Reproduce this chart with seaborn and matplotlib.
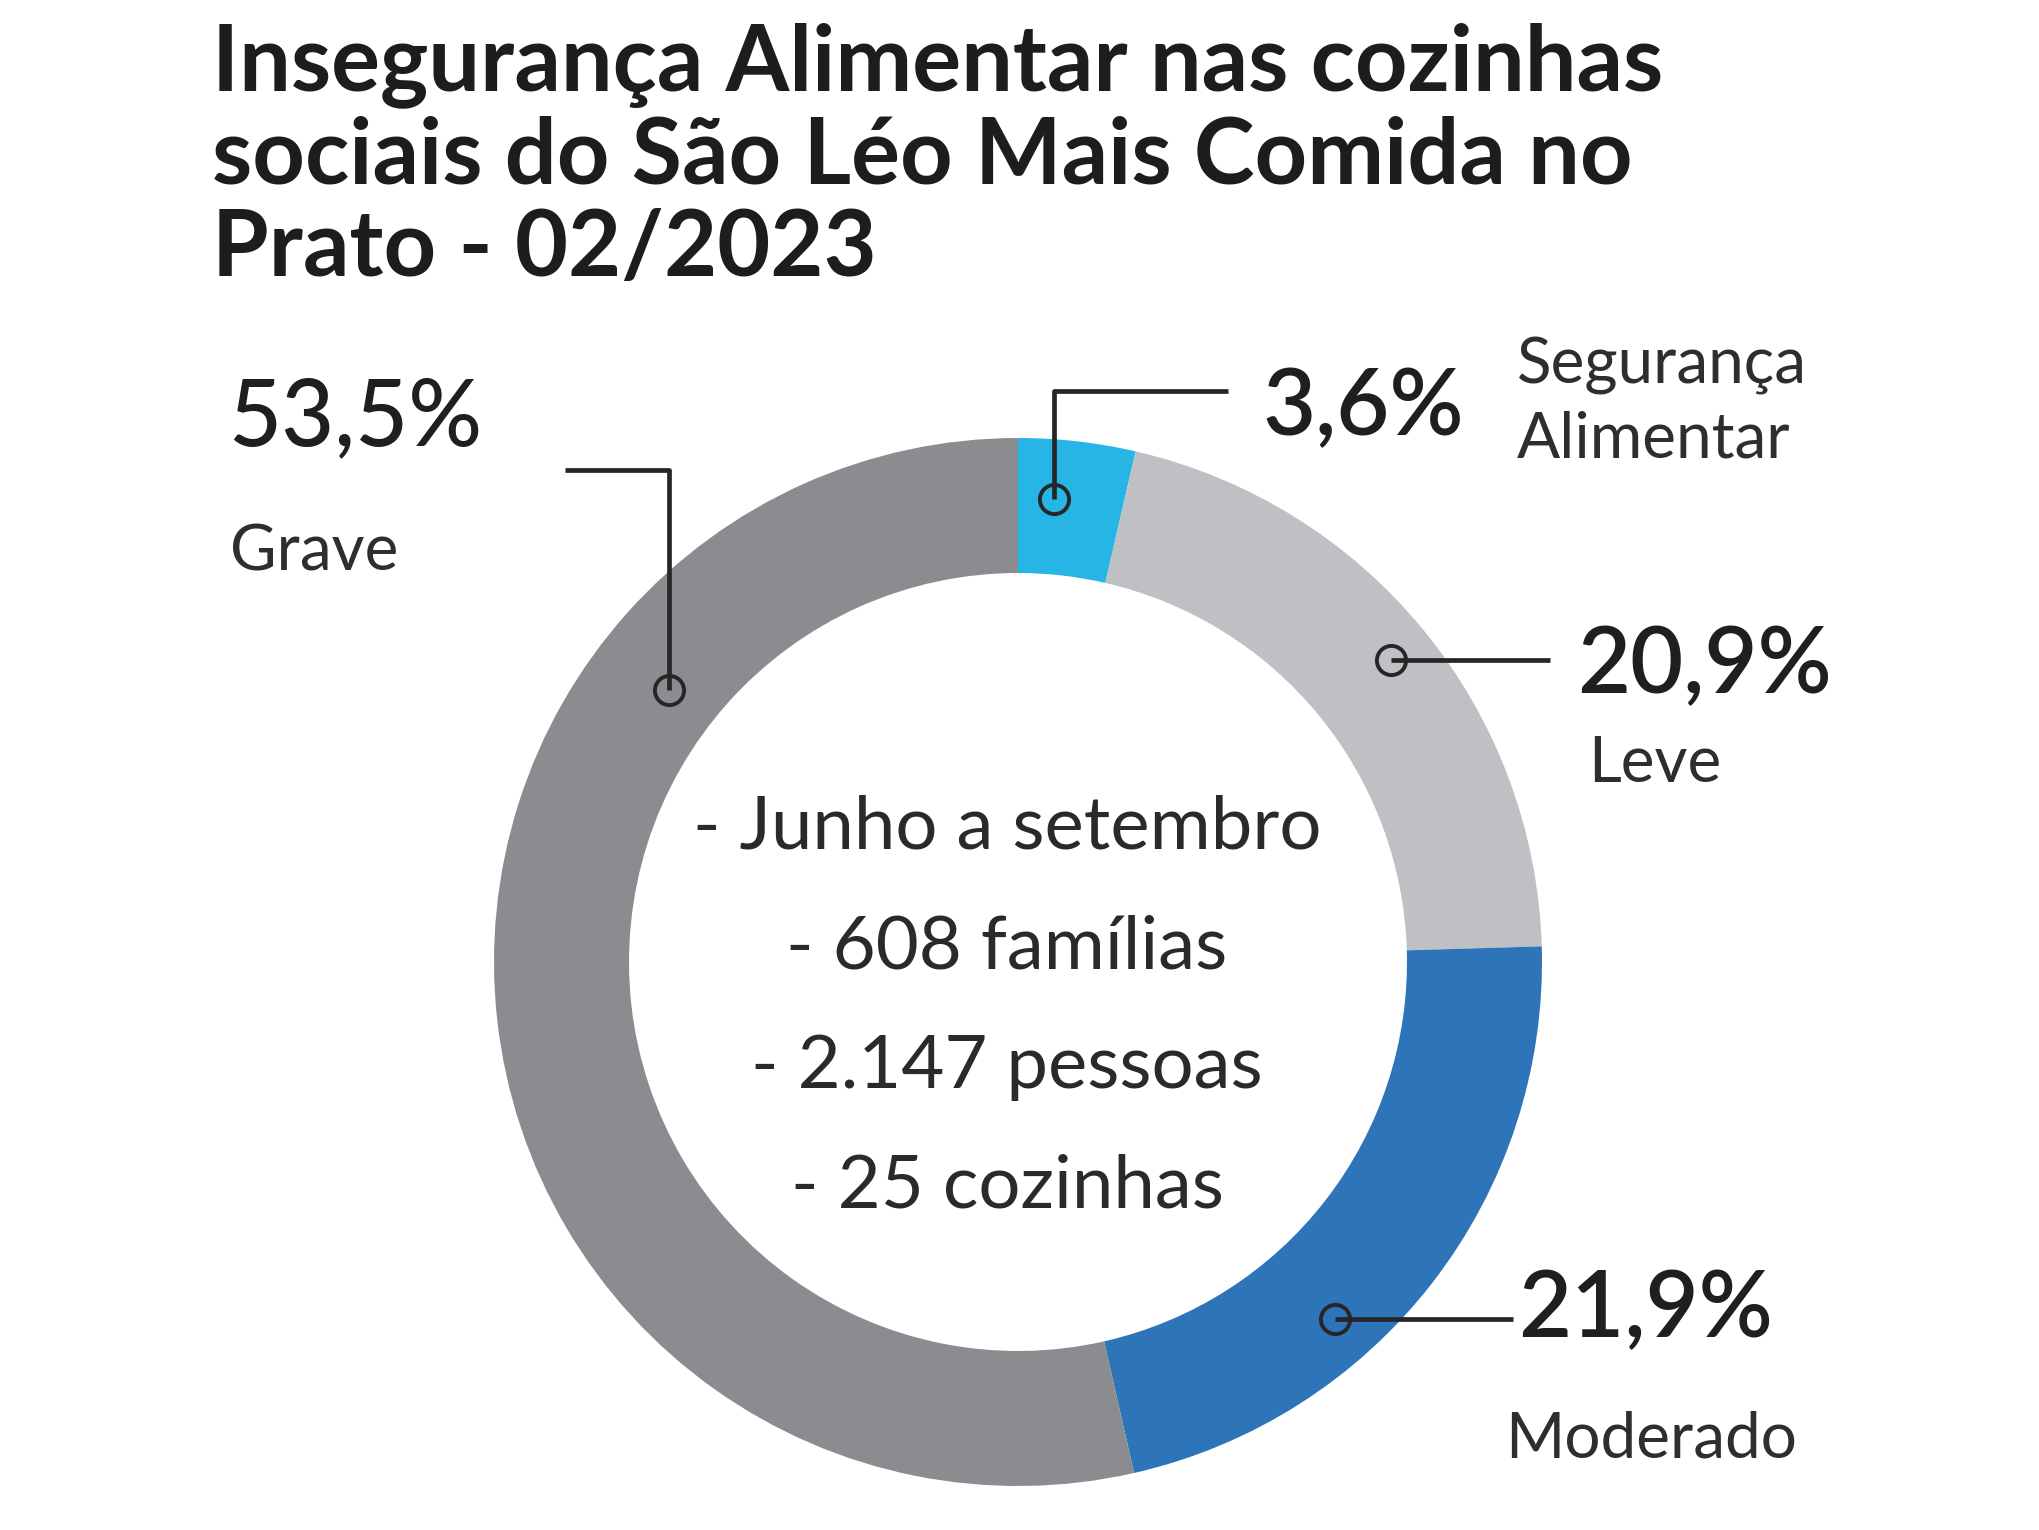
import numpy as np
import matplotlib
matplotlib.use("Agg")
import matplotlib.pyplot as plt
import seaborn as sns

# dados
categorias = [["Segurança", "Alimentar"], ["Leve"], ["Moderado"], ["Grave"]]
percentuais = [3.6, 20.9, 21.9, 53.5]
rotulos_pct = ["3,6%", "20,9%", "21,9%", "53,5%"]
info_centro = ["- Junho a setembro", "- 608 famílias", "- 2.147 pessoas", "- 25 cozinhas"]
titulo = ["Insegurança Alimentar nas cozinhas",
          "sociais do São Léo Mais Comida no",
          "Prato - 02/2023"]

cores = sns.color_palette(["#27b5e6", "#bfc0c4", "#2e74b8", "#8b8c90"])

sns.set_theme(style="white")
plt.rcParams["font.family"] = ["Lato", "DejaVu Sans"]

fig = plt.figure(figsize=(20.4, 15.3), dpi=100)
ax = fig.add_axes([0, 0, 1, 1])

# rosca (coordenadas em pixels, y para baixo)
cx, cy, raio, largura = 1018, 962, 524, 135
wedges, _ = ax.pie(percentuais, colors=cores, startangle=-90, counterclock=True,
                   radius=raio, center=(cx, cy),
                   wedgeprops=dict(width=largura, edgecolor="none", linewidth=0))
ax.set_xlim(0, 2040)
ax.set_ylim(1530, 0)
ax.axis("off")

# titulo
for i, linha in enumerate(titulo):
    ax.text(212, 90 + i * 93, linha, fontsize=66, fontweight="bold",
            color="#1d1d1d", ha="left", va="baseline")

# texto central
for i, linha in enumerate(info_centro):
    ax.text(1007, 848 + i * 120, linha, fontsize=53.5, color="#2a2a2a",
            ha="center", va="baseline")

# marcadores e linhas de chamada
# (fracao ao longo da fatia, raio do ponto, y do cotovelo, x final)
chamadas = [
    (0.34, 464, 391, 1228),
    (0.506, 480, None, 1550),
    (0.635, 477, None, 1513),
    (0.73, 443, 470, 565),
]
fim = np.cumsum(percentuais) / sum(percentuais) * 360
ini = np.concatenate([[0], fim[:-1]])
for k, (frac, r, ey, ex) in enumerate(chamadas):
    ang = ini[k] + frac * (fim[k] - ini[k])
    th = np.radians(ang - 90)
    mx, my = cx + r * np.cos(th), cy + r * np.sin(th)
    if ey is None:
        xs, ys = [mx, ex], [my, my]
    else:
        xs, ys = [mx, mx, ex], [my, ey, ey]
    ax.plot(xs, ys, color="#262626", lw=3.4, solid_capstyle="butt", zorder=3)
    ax.plot(mx, my, "o", ms=21, mfc="none", mec="#262626", mew=2.8, zorder=4)

# rotulos
pos_pct = [(1262, 435), (1577, 693), (1518, 1337), (228, 445)]
pesos = ["semibold", "semibold", "semibold", "medium"]
pos_cat = [(1517, 383), (1588, 782), (1505, 1457), (230, 570)]
for k in range(4):
    ax.text(*pos_pct[k], rotulos_pct[k], fontsize=66, fontweight=pesos[k],
            color="#1f1f1f", ha="left", va="baseline")
    for j, linha in enumerate(categorias[k]):
        ax.text(pos_cat[k][0], pos_cat[k][1] + j * 74, linha, fontsize=46,
                color="#2e2e2e", ha="left", va="baseline")

plt.savefig("out.png", dpi=100)
